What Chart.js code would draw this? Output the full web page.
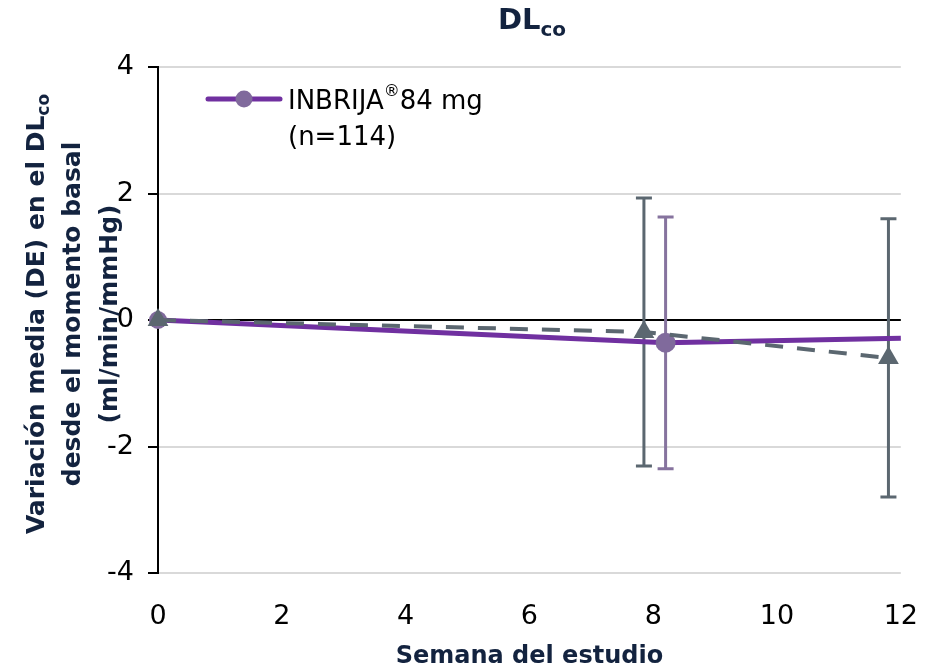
<!DOCTYPE html>
<html>
<head>
<meta charset="utf-8">
<script src="https://cdn.jsdelivr.net/npm/chart.js@4/dist/chart.umd.min.js"></script>
<style>
  html, body { margin: 0; padding: 0; background: #fff; }
  #contenedor { width: 938px; height: 671px; }
</style>
</head>
<body>
<div id="contenedor"><canvas id="graficoDlco"></canvas></div>
<script>
// Variación media del DLco desde el momento basal
const semanasInbrija = [0, 8.2, 12];
const mediaInbrija = [0, -0.36, -0.29];
const deInbrija = [null, 1.99, null];

const semanasObservacion = [0, 7.85, 11.8];
const mediaObservacion = [0, -0.19, -0.6];
const deObservacion = [null, 2.12, 2.2];

const ticksY = [-4, -2, 0, 2, 4];
const ticksX = [0, 2, 4, 6, 8, 10, 12];

const azul = '#13233f';
const morado = '#7030a0';
const moradoMarcador = '#806a9c';
const gris = '#5b6770';
const fuente = "'DejaVu Sans', sans-serif";

function puntos(xs, ys) {
    return xs.map((x, i) => ({ x: x, y: ys[i] }));
}

// texto con subíndice, centrado en cx
function textoConSub(ctx, base, sub, cx, y, fBase, fSub, bajada) {
    ctx.font = fBase;
    const wBase = ctx.measureText(base).width;
    ctx.font = fSub;
    const wSub = ctx.measureText(sub).width;
    let x = cx - (wBase + wSub) / 2;
    ctx.textAlign = 'left';
    ctx.font = fBase;
    ctx.fillText(base, x, y);
    ctx.font = fSub;
    ctx.fillText(sub, x + wBase, y + bajada);
}

const barrasError = {
    id: 'barrasError',
    beforeDatasetsDraw(chart) {
        const ctx = chart.ctx;
        const ejeX = chart.scales.x;
        const ejeY = chart.scales.y;
        chart.data.datasets.forEach(ds => {
            if (!ds.desviacion) return;
            ds.data.forEach((p, i) => {
                const de = ds.desviacion[i];
                if (de == null) return;
                const px = ejeX.getPixelForValue(p.x);
                const arriba = ejeY.getPixelForValue(p.y + de);
                const abajo = ejeY.getPixelForValue(p.y - de);
                ctx.save();
                ctx.strokeStyle = ds.colorError;
                ctx.lineWidth = 3;
                ctx.beginPath();
                ctx.moveTo(px, arriba);
                ctx.lineTo(px, abajo);
                ctx.moveTo(px - 8, arriba);
                ctx.lineTo(px + 8, arriba);
                ctx.moveTo(px - 8, abajo);
                ctx.lineTo(px + 8, abajo);
                ctx.stroke();
                ctx.restore();
            });
        });
    }
};

const titulos = {
    id: 'titulos',
    afterDraw(chart) {
        const ctx = chart.ctx;
        const area = chart.chartArea;
        ctx.save();
        ctx.fillStyle = azul;
        ctx.textBaseline = 'alphabetic';

        // título
        textoConSub(ctx, 'DL', 'co', 532, 29, 'bold 29px ' + fuente, 'bold 20px ' + fuente, 7);

        // título del eje Y, girado
        const cy = 314;
        ctx.translate(0, cy);
        ctx.rotate(-Math.PI / 2);
        const fEje = 'bold 25px ' + fuente;
        textoConSub(ctx, 'Variación media (DE) en el DL', 'co', 0, 44, fEje, 'bold 17px ' + fuente, 5);
        ctx.font = fEje;
        ctx.textAlign = 'center';
        ctx.fillText('desde el momento basal', 0, 80);
        ctx.fillText('(ml/min/mmHg)', 0, 117);
        ctx.restore();

        // leyenda
        const ds = chart.data.datasets[1];
        const lx = area.left + 50;
        const ly = area.top + 32;
        ctx.save();
        ctx.strokeStyle = ds.borderColor;
        ctx.lineWidth = 5;
        ctx.lineCap = 'round';
        ctx.beginPath();
        ctx.moveTo(lx, ly);
        ctx.lineTo(lx + 72, ly);
        ctx.stroke();
        ctx.fillStyle = ds.pointBackgroundColor;
        ctx.beginPath();
        ctx.arc(lx + 36, ly, 8.5, 0, Math.PI * 2);
        ctx.fill();

        ctx.fillStyle = '#000';
        ctx.textAlign = 'left';
        ctx.textBaseline = 'alphabetic';
        const fLey = '26px ' + fuente;
        let tx = lx + 80;
        ctx.font = fLey;
        ctx.fillText('INBRIJA', tx, ly + 10);
        tx += ctx.measureText('INBRIJA').width;
        ctx.font = '16px ' + fuente;
        ctx.fillText('®', tx, ly - 3);
        tx += ctx.measureText('®').width;
        ctx.font = fLey;
        ctx.fillText('84 mg', tx, ly + 10);
        ctx.fillText('(n=114)', lx + 80, ly + 46);
        ctx.restore();
    }
};

const graficoDlco = new Chart(document.getElementById('graficoDlco'), {
    type: 'line',
    data: {
        datasets: [{
            label: 'Observación',
            data: puntos(semanasObservacion, mediaObservacion),
            desviacion: deObservacion,
            colorError: gris,
            borderColor: gris,
            backgroundColor: gris,
            borderWidth: 4,
            borderDash: [18, 14],
            pointStyle: 'triangle',
            pointRadius: 12,
            pointBackgroundColor: gris,
            pointBorderWidth: 0,
            clip: false
        }, {
            label: 'INBRIJA® 84 mg',
            data: puntos(semanasInbrija, mediaInbrija),
            desviacion: deInbrija,
            colorError: '#86739e',
            borderColor: morado,
            backgroundColor: moradoMarcador,
            borderWidth: 5,
            pointStyle: 'circle',
            pointRadius: [9, 10, 0],
            pointBackgroundColor: moradoMarcador,
            pointBorderWidth: 0,
            clip: false
        }]
    },
    options: {
        responsive: true,
        maintainAspectRatio: false,
        animation: false,
        layout: { padding: { left: 0, right: 27, top: 67, bottom: 0 } },
        plugins: {
            legend: { display: false },
            title: { display: false },
            tooltip: { enabled: false }
        },
        scales: {
            x: {
                type: 'linear',
                min: 0,
                max: 12,
                afterBuildTicks: s => { s.ticks = ticksX.map(v => ({ value: v })); },
                afterFit: s => { s.height = 98; },
                grid: { display: false },
                border: { display: false },
                ticks: { color: '#000', padding: 20, font: { family: fuente, size: 27 } },
                title: {
                    display: true,
                    text: 'Semana del estudio',
                    color: azul,
                    font: { family: fuente, size: 24, weight: 'bold' },
                    padding: { top: 0, bottom: 0 }
                }
            },
            y: {
                min: -4,
                max: 4,
                afterBuildTicks: s => { s.ticks = ticksY.map(v => ({ value: v })); },
                afterFit: s => { s.width = 158; },
                grid: {
                    color: c => c.tick && c.tick.value === 0 ? '#000' : '#d9d9d9',
                    lineWidth: 2,
                    tickColor: '#000',
                    tickLength: 10
                },
                border: { display: true, color: '#000', width: 2 },
                ticks: { color: '#000', padding: 14, font: { family: fuente, size: 27 } }
            }
        }
    },
    plugins: [barrasError, titulos]
});
</script>
</body>
</html>
